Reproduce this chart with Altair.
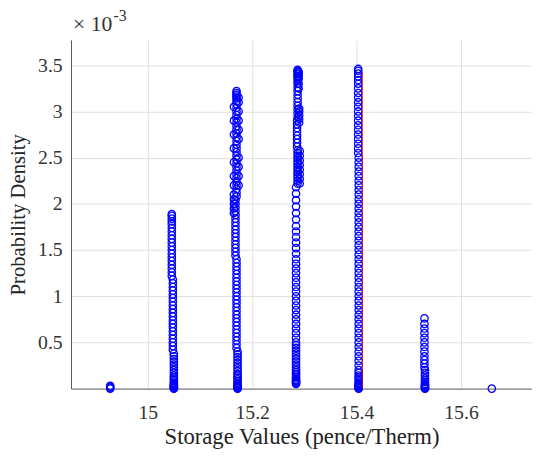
import altair as alt
import pandas as pd

# Each segment: one x value (pence/Therm) and the y values (x 1e-3) of its circles
seg_x = [
    14.928,
    15.050, 15.048, 15.046,
    15.172, 15.170, 15.168, 15.165, 15.170, 15.174,
    15.284, 15.284, 15.287, 15.291, 15.286, 15.290, 15.287, 15.289,
    15.404, 15.404, 15.403,
    15.531, 15.530,
    15.659,
]
seg_y = [
    [0.0, 0.01, 0.02, 0.03],
    [0.0, 0.005, 0.01, 0.015, 0.02, 0.03, 0.04, 0.05, 0.06, 0.08, 0.10, 0.12, 0.14,
     0.17, 0.20, 0.23, 0.26, 0.29, 0.32, 0.35, 0.38],
    [0.42, 0.46, 0.50, 0.54, 0.58, 0.62, 0.66, 0.70, 0.74, 0.78, 0.82, 0.86, 0.90,
     0.94, 0.98, 1.02, 1.06, 1.10, 1.14, 1.18],
    [1.22, 1.26, 1.30, 1.34, 1.38, 1.42, 1.46, 1.50, 1.54, 1.58, 1.62, 1.66, 1.70,
     1.74, 1.78, 1.81, 1.84, 1.87, 1.89],
    [0.0, 0.005, 0.01, 0.02, 0.03, 0.04, 0.05, 0.06, 0.08, 0.10, 0.12, 0.14, 0.16,
     0.19, 0.22, 0.25, 0.28, 0.31, 0.34, 0.37, 0.40],
    [0.44, 0.48, 0.52, 0.56, 0.60, 0.64, 0.68, 0.72, 0.76, 0.80, 0.84, 0.88, 0.92,
     0.96, 1.00, 1.04, 1.08, 1.12, 1.16, 1.20, 1.24, 1.28, 1.32, 1.36, 1.40],
    [1.44, 1.48, 1.52, 1.56, 1.60, 1.64, 1.68, 1.72, 1.76, 1.80, 1.84, 1.88, 1.92,
     1.96, 2.00, 2.04],
    [1.90, 1.95, 2.00, 2.05, 2.10, 2.20, 2.30, 2.45, 2.60, 2.75, 2.90, 3.05],
    [2.08, 2.12, 2.16, 2.20, 2.24, 2.28, 2.32, 2.36, 2.40, 2.44, 2.48, 2.52, 2.56,
     2.60, 2.64, 2.68, 2.72, 2.76, 2.80, 2.84, 2.88, 2.92, 2.96, 3.00, 3.04, 3.08,
     3.11, 3.14, 3.16, 3.18, 3.20, 3.22],
    [2.20, 2.30, 2.40, 2.50, 2.70, 2.80, 2.90, 3.00, 3.10, 3.15],
    [0.05, 0.06, 0.07, 0.08, 0.09, 0.10, 0.12, 0.14, 0.16, 0.18, 0.20, 0.23, 0.26,
     0.29, 0.32, 0.35, 0.38, 0.41, 0.44, 0.47, 0.50],
    [0.55, 0.60, 0.65, 0.70, 0.75, 0.80, 0.85, 0.90, 0.95, 1.00, 1.05, 1.10, 1.15,
     1.20, 1.25, 1.30, 1.35, 1.40, 1.46, 1.52, 1.58, 1.64, 1.70, 1.76, 1.83, 1.90,
     1.97, 2.04, 2.11, 2.18],
    [2.22, 2.25, 2.28, 2.31, 2.34, 2.37, 2.40, 2.43, 2.46, 2.49, 2.52, 2.55, 2.58],
    [2.22, 2.27, 2.32, 2.37, 2.42, 2.47, 2.52, 2.57],
    [2.62, 2.66, 2.70, 2.74, 2.78, 2.82, 2.86, 2.90],
    [2.88, 2.92, 2.96, 3.00, 3.03],
    [2.94, 2.98, 3.02, 3.06, 3.10, 3.14, 3.18, 3.22, 3.26, 3.30, 3.33, 3.36, 3.38,
     3.40, 3.42, 3.44, 3.45],
    [3.25, 3.30, 3.35, 3.38, 3.41, 3.43],
    [0.0, 0.005, 0.01, 0.02, 0.03, 0.04, 0.05, 0.06, 0.08, 0.10, 0.12, 0.14, 0.17,
     0.20, 0.25, 0.30, 0.35, 0.40, 0.45, 0.50, 0.55, 0.60, 0.65, 0.70, 0.75, 0.80,
     0.85, 0.90, 0.95, 1.00, 1.05, 1.10, 1.15, 1.20, 1.25, 1.30, 1.35, 1.40, 1.45],
    [1.50, 1.55, 1.60, 1.65, 1.70, 1.75, 1.80, 1.85, 1.90, 1.95, 2.00, 2.05, 2.10,
     2.15, 2.20, 2.25, 2.30, 2.35, 2.40, 2.45, 2.50],
    [2.55, 2.60, 2.65, 2.70, 2.75, 2.80, 2.85, 2.90, 2.95, 3.00, 3.05, 3.10, 3.15,
     3.20, 3.25, 3.30, 3.34, 3.38, 3.41, 3.44, 3.46],
    [0.0, 0.005, 0.01, 0.02, 0.03, 0.04, 0.05, 0.07, 0.09, 0.11, 0.14, 0.17, 0.20],
    [0.23, 0.27, 0.31, 0.35, 0.40, 0.45, 0.50, 0.55, 0.60, 0.65, 0.70, 0.76],
    [0.0],
]

red_x = [15.411]
red_y = [0.0]
red_y2 = [3.43]

x_ticks = [15, 15.2, 15.4, 15.6]
y_ticks = [0.5, 1, 1.5, 2, 2.5, 3, 3.5]

rows = [{"x": sx, "y": y} for sx, ys in zip(seg_x, seg_y) for y in ys]
df = pd.DataFrame(rows)
red_df = pd.DataFrame({"x": red_x, "y": red_y, "y2": red_y2})

FONT = "Liberation Serif"

xscale = alt.Scale(domain=[14.853, 15.736], nice=False, zero=False)
yscale = alt.Scale(domain=[0, 3.774], nice=False, zero=False)

points = alt.Chart(df).mark_point(
    shape="circle", filled=False, size=56, strokeWidth=1.3,
    color="#0000ff", opacity=1
).encode(
    x=alt.X("x:Q", scale=xscale,
            axis=alt.Axis(values=x_ticks, format="~g", labelFont=FONT,
                          titleFont=FONT,
                          title="Storage Values (pence/Therm)")),
    y=alt.Y("y:Q", scale=yscale,
            axis=alt.Axis(values=y_ticks, format="~g", labelFont=FONT,
                          titleFont=FONT,
                          title="Probability Density")),
)

red = alt.Chart(red_df).mark_rule(color="#ff0000", strokeWidth=0.8).encode(
    x="x:Q", y="y:Q", y2="y2:Q"
)

exp_base = alt.Chart(pd.DataFrame({"t": ["× 10"]})).mark_text(
    font=FONT, fontSize=22, align="left", baseline="alphabetic", color="#333333"
).encode(text="t:N", x=alt.value(2), y=alt.value(-9))

exp_sup = alt.Chart(pd.DataFrame({"t": ["-3"]})).mark_text(
    font=FONT, fontSize=16, align="left", baseline="alphabetic", color="#333333"
).encode(text="t:N", x=alt.value(43), y=alt.value(-19))

chart = alt.layer(points, red, exp_base, exp_sup).properties(
    width=468, height=354,
    autosize=alt.AutoSizeParams(type="none"),
    padding={"left": 64, "top": 29, "right": 0, "bottom": 64},
).configure_view(stroke=None).configure_axis(
    labelFontSize=20,
    labelColor="#333333", titleColor="#222222", titleFontWeight="normal",
    domainColor="#555555", domainWidth=1, gridColor="#e0e0e0", gridWidth=1,
    tickSize=0,
).configure_axisX(labelPadding=14, titlePadding=4, titleFontSize=23).configure_axisY(
    labelPadding=9, titlePadding=9, titleFontSize=21)

chart.save("out.html", embed_options={"renderer": "svg", "actions": False})
